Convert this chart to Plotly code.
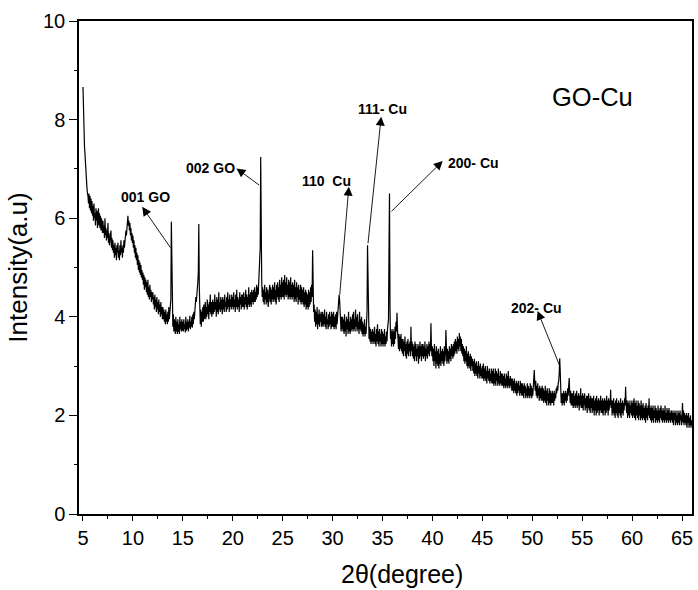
import numpy as np
import plotly.graph_objects as go

# XRD scan of the GO-Cu composite: 2-theta from 5.00 to 66.00 deg, 0.05 deg step
two_theta_start = 5.0
two_theta_step = 0.05
intensity = [
    8.66, 8.10, 7.68, 7.45, 7.30, 7.05, 6.95, 6.70, 6.60, 6.50, 6.45, 6.30, 6.50, 6.20, 6.45, 6.15, 6.40, 6.10, 6.35, 6.05,  # 5
    6.25, 5.95, 6.30, 6.00, 6.10, 5.85, 6.20, 5.95, 6.15, 5.80, 6.05, 6.20, 5.85, 6.10, 5.80, 6.05, 5.75, 6.00, 5.90, 5.70,  # 6
    5.95, 5.70, 5.85, 5.60, 6.00, 5.65, 5.80, 5.55, 5.75, 5.60, 5.90, 5.50, 5.70, 5.45, 5.65, 5.55, 5.75, 5.40, 5.60, 5.35,  # 7
    5.55, 5.30, 5.45, 5.20, 5.50, 5.25, 5.40, 5.15, 5.45, 5.30, 5.50, 5.20, 5.35, 5.15, 5.45, 5.25, 5.55, 5.30, 5.40, 5.20,  # 8
    5.45, 5.30, 5.55, 5.40, 5.60, 5.50, 5.75, 5.65, 5.90, 5.80, 6.05, 5.85, 5.95, 5.75, 5.90, 5.65, 5.80, 5.55, 5.70, 5.50,  # 9
    5.65, 5.40, 5.55, 5.30, 5.45, 5.20, 5.40, 5.15, 5.30, 5.05, 5.25, 4.95, 5.15, 4.90, 5.10, 4.85, 5.05, 4.80, 4.95, 4.75,  # 10
    4.90, 4.65, 4.85, 4.55, 4.80, 4.60, 4.75, 4.50, 4.70, 4.45, 4.75, 4.40, 4.60, 4.35, 4.65, 4.40, 4.55, 4.30, 4.50, 4.35,  # 11
    4.50, 4.25, 4.40, 4.15, 4.45, 4.20, 4.35, 4.10, 4.40, 4.15, 4.30, 4.05, 4.35, 4.10, 4.25, 4.00, 4.30, 4.05, 4.20, 3.95,  # 12
    4.20, 3.95, 4.15, 3.90, 4.10, 3.85, 4.15, 3.90, 4.05, 3.85, 4.10, 3.90, 4.20, 3.95, 4.15, 4.05, 4.35, 5.93, 4.60, 3.95,  # 13
    3.80, 4.05, 3.70, 3.95, 3.75, 3.65, 4.00, 3.70, 3.90, 3.65, 3.95, 3.70, 3.85, 3.65, 4.00, 3.75, 3.90, 3.70, 3.95, 3.72,  # 14
    3.90, 3.70, 3.95, 3.75, 3.85, 3.68, 4.00, 3.72, 3.90, 3.75, 3.95, 3.70, 3.90, 3.78, 4.02, 3.75, 3.90, 3.80, 4.00, 3.78,  # 15
    4.05, 3.85, 4.10, 3.95, 4.25, 4.15, 4.40, 4.30, 4.55, 4.50, 4.70, 4.90, 5.88, 4.60, 4.00, 3.85, 4.15, 3.80, 4.10, 3.90,  # 16
    4.20, 3.90, 4.25, 3.95, 4.10, 4.30, 3.95, 4.20, 4.00, 4.35, 4.05, 4.25, 3.95, 4.30, 4.10, 4.45, 4.05, 4.30, 4.00, 4.25,  # 17
    4.35, 4.05, 4.30, 4.10, 4.45, 4.15, 4.30, 4.00, 4.40, 4.10, 4.35, 4.05, 4.50, 4.15, 4.30, 4.10, 4.40, 4.15, 4.35, 4.05,  # 18
    4.40, 4.15, 4.35, 4.10, 4.45, 4.20, 4.30, 4.10, 4.40, 4.15, 4.50, 4.20, 4.35, 4.10, 4.45, 4.20, 4.35, 4.15, 4.45, 4.20,  # 19
    4.40, 4.15, 4.50, 4.20, 4.35, 4.10, 4.45, 4.20, 4.55, 4.15, 4.40, 4.20, 4.35, 4.10, 4.50, 4.25, 4.40, 4.15, 4.45, 4.20,  # 20
    4.45, 4.20, 4.50, 4.15, 4.40, 4.25, 4.55, 4.20, 4.45, 4.15, 4.40, 4.25, 4.60, 4.20, 4.45, 4.25, 4.50, 4.20, 4.55, 4.30,  # 21
    4.50, 4.25, 4.55, 4.30, 4.60, 4.30, 4.50, 4.35, 4.65, 4.40, 4.60, 4.45, 4.80, 4.70, 5.35, 5.40, 7.24, 5.30, 4.75, 4.40,  # 22
    4.60, 4.30, 4.55, 4.25, 4.65, 4.35, 4.50, 4.25, 4.60, 4.30, 4.55, 4.20, 4.50, 4.35, 4.65, 4.30, 4.60, 4.25, 4.55, 4.35,  # 23
    4.65, 4.30, 4.60, 4.35, 4.70, 4.30, 4.55, 4.25, 4.65, 4.40, 4.70, 4.35, 4.60, 4.30, 4.75, 4.40, 4.65, 4.35, 4.80, 4.40,  # 24
    4.70, 4.40, 4.75, 4.35, 4.85, 4.45, 4.70, 4.40, 4.80, 4.45, 4.65, 4.35, 4.75, 4.40, 4.70, 4.35, 4.80, 4.40, 4.65, 4.35,  # 25
    4.70, 4.40, 4.65, 4.30, 4.75, 4.35, 4.60, 4.30, 4.70, 4.40, 4.60, 4.25, 4.65, 4.35, 4.55, 4.30, 4.65, 4.25, 4.60, 4.30,  # 26
    4.55, 4.25, 4.60, 4.20, 4.50, 4.25, 4.55, 4.15, 4.50, 4.20, 4.45, 4.15, 4.55, 4.20, 4.50, 4.25, 4.60, 4.30, 4.65, 4.40,  # 27
    5.35, 4.70, 4.10, 4.25, 3.90, 4.15, 3.80, 4.10, 3.85, 4.20, 3.75, 4.05, 3.85, 4.15, 3.80, 4.05, 3.90, 4.10, 3.80, 4.00,  # 28
    4.10, 3.80, 4.05, 3.85, 4.15, 3.80, 4.00, 3.75, 4.10, 3.85, 3.95, 3.75, 4.05, 3.80, 4.10, 3.85, 4.00, 3.75, 4.10, 3.80,  # 29
    4.05, 3.80, 4.10, 3.75, 4.00, 3.80, 4.05, 3.75, 4.10, 3.85, 4.00, 4.15, 4.25, 4.44, 4.35, 4.10, 3.85, 3.70, 4.00, 3.75,  # 30
    4.00, 3.70, 3.95, 3.65, 4.05, 3.70, 3.90, 3.60, 4.00, 3.75, 3.95, 3.65, 4.10, 3.70, 3.90, 3.65, 4.00, 3.70, 3.95, 3.75,  # 31
    4.05, 3.70, 4.10, 3.75, 3.95, 3.70, 4.15, 3.80, 4.00, 3.70, 4.05, 3.75, 3.90, 3.65, 4.10, 3.75, 3.95, 3.70, 4.00, 3.65,  # 32
    3.90, 3.60, 3.85, 3.65, 3.95, 3.60, 3.80, 3.65, 3.90, 4.10, 5.45, 4.40, 3.75, 3.55, 3.80, 3.50, 3.75, 3.45, 3.70, 3.50,  # 33
    3.75, 3.45, 3.70, 3.50, 3.80, 3.45, 3.65, 3.40, 3.75, 3.50, 3.85, 3.45, 3.70, 3.40, 3.75, 3.50, 3.65, 3.40, 3.75, 3.45,  # 34
    3.70, 3.40, 3.65, 3.45, 3.75, 3.40, 3.60, 3.45, 3.70, 3.50, 3.75, 3.90, 3.95, 5.35, 6.50, 4.20, 3.55, 3.75, 3.40, 3.70,  # 35
    3.45, 3.75, 3.40, 3.70, 3.45, 3.80, 3.55, 3.90, 3.70, 4.08, 3.75, 3.50, 3.35, 3.65, 3.30, 3.60, 3.35, 3.65, 3.30, 3.55,  # 36
    3.25, 3.55, 3.20, 3.50, 3.30, 3.60, 3.20, 3.45, 3.15, 3.50, 3.25, 3.55, 3.20, 3.45, 3.30, 3.50, 3.20, 3.80, 3.30, 3.50,  # 37
    3.20, 3.45, 3.15, 3.40, 3.10, 3.50, 3.20, 3.45, 3.10, 3.35, 3.20, 3.45, 3.05, 3.40, 3.15, 3.50, 3.20, 3.40, 3.10, 3.45,  # 38
    3.20, 3.45, 3.15, 3.40, 3.20, 3.50, 3.10, 3.35, 3.20, 3.45, 3.15, 3.40, 3.25, 3.50, 3.20, 3.45, 3.30, 3.87, 3.40, 3.20,  # 39
    3.40, 3.10, 3.35, 3.00, 3.45, 3.10, 3.30, 2.95, 3.40, 3.05, 3.30, 3.00, 3.35, 2.95, 3.25, 3.05, 3.40, 3.00, 3.30, 3.10,  # 40
    3.35, 3.05, 3.30, 3.00, 3.40, 3.10, 3.25, 3.73, 3.30, 3.05, 3.35, 3.10, 3.30, 3.05, 3.40, 3.15, 3.35, 3.10, 3.45, 3.20,  # 41
    3.40, 3.15, 3.45, 3.20, 3.50, 3.25, 3.55, 3.30, 3.50, 3.25, 3.60, 3.35, 3.55, 3.30, 3.67, 3.40, 3.60, 3.30, 3.55, 3.25,  # 42
    3.45, 3.20, 3.40, 3.10, 3.35, 3.05, 3.30, 3.10, 3.40, 3.00, 3.25, 2.95, 3.30, 3.00, 3.20, 2.95, 3.25, 2.90, 3.20, 3.00,  # 43
    3.15, 2.90, 3.10, 2.85, 3.15, 2.80, 3.05, 2.85, 3.10, 2.80, 3.00, 2.75, 3.10, 2.85, 3.00, 2.75, 3.05, 2.80, 2.95, 2.75,  # 44
    3.00, 2.75, 3.05, 2.70, 2.95, 2.75, 3.00, 2.70, 2.90, 2.65, 3.00, 2.75, 2.90, 2.70, 2.95, 2.65, 2.85, 2.70, 2.95, 2.65,  # 45
    2.90, 2.65, 2.95, 2.60, 2.85, 2.65, 2.95, 2.60, 2.90, 2.70, 2.85, 2.60, 2.95, 2.65, 2.80, 2.60, 2.90, 2.65, 2.85, 2.60,  # 46
    2.85, 2.60, 2.80, 2.55, 2.85, 2.60, 2.75, 2.55, 2.85, 2.60, 2.80, 2.55, 2.90, 2.60, 2.75, 2.55, 2.80, 2.60, 2.75, 2.50,  # 47
    2.75, 2.50, 2.70, 2.45, 2.75, 2.50, 2.65, 2.45, 2.70, 2.40, 2.65, 2.45, 2.70, 2.50, 2.60, 2.40, 2.70, 2.45, 2.65, 2.40,  # 48
    2.65, 2.40, 2.60, 2.35, 2.65, 2.45, 2.60, 2.35, 2.55, 2.40, 2.65, 2.35, 2.60, 2.40, 2.55, 2.35, 2.65, 2.40, 2.60, 2.35,  # 49
    2.55, 2.40, 2.70, 2.75, 2.92, 2.65, 2.50, 2.70, 2.40, 2.60, 2.35, 2.65, 2.40, 2.55, 2.30, 2.60, 2.35, 2.55, 2.30, 2.50,  # 50
    2.60, 2.30, 2.55, 2.25, 2.50, 2.30, 2.60, 2.25, 2.50, 2.20, 2.55, 2.30, 2.45, 2.20, 2.55, 2.25, 2.50, 2.20, 2.45, 2.25,  # 51
    2.50, 2.25, 2.45, 2.20, 2.50, 2.30, 2.45, 2.35, 2.55, 2.45, 2.60, 2.50, 2.65, 2.70, 2.85, 3.16, 2.90, 2.45, 2.25, 2.45,  # 52
    2.20, 2.45, 2.25, 2.50, 2.20, 2.45, 2.30, 2.50, 2.25, 2.45, 2.30, 2.55, 2.40, 2.60, 2.76, 2.45, 2.25, 2.50, 2.20, 2.45,  # 53
    2.20, 2.45, 2.15, 2.50, 2.20, 2.40, 2.15, 2.45, 2.20, 2.50, 2.15, 2.40, 2.20, 2.45, 2.10, 2.40, 2.20, 2.55, 2.15, 2.40,  # 54
    2.15, 2.45, 2.10, 2.40, 2.20, 2.45, 2.10, 2.35, 2.15, 2.40, 2.05, 2.40, 2.15, 2.45, 2.10, 2.35, 2.05, 2.40, 2.15, 2.35,  # 55
    2.05, 2.35, 2.10, 2.40, 2.00, 2.30, 2.10, 2.35, 2.00, 2.40, 2.05, 2.30, 2.10, 2.35, 2.00, 2.30, 2.10, 2.40, 2.05, 2.30,  # 56
    2.05, 2.35, 2.00, 2.30, 2.10, 2.35, 2.00, 2.30, 2.05, 2.40, 2.10, 2.30, 2.00, 2.35, 2.10, 2.30, 2.20, 2.52, 2.15, 2.30,  # 57
    2.00, 2.30, 2.05, 2.35, 2.00, 2.25, 1.95, 2.30, 2.05, 2.35, 2.00, 2.25, 1.95, 2.30, 2.05, 2.25, 2.00, 2.35, 1.95, 2.25,  # 58
    2.05, 2.30, 2.00, 2.25, 2.10, 2.35, 2.20, 2.58, 2.25, 2.05, 2.30, 1.95, 2.25, 2.00, 2.30, 1.95, 2.20, 2.05, 2.30, 2.00,  # 59
    2.25, 1.95, 2.30, 2.00, 2.35, 1.95, 2.25, 1.90, 2.30, 2.00, 2.20, 1.95, 2.30, 1.90, 2.25, 2.00, 2.20, 1.90, 2.30, 1.95,  # 60
    2.20, 1.90, 2.25, 1.95, 2.15, 1.90, 2.20, 1.85, 2.25, 1.95, 2.15, 1.90, 2.20, 2.00, 2.35, 1.95, 2.15, 1.90, 2.20, 1.85,  # 61
    2.15, 1.90, 2.20, 1.85, 2.10, 1.95, 2.20, 1.85, 2.15, 1.90, 2.10, 1.85, 2.20, 1.90, 2.10, 1.85, 2.15, 1.95, 2.20, 1.90,  # 62
    2.10, 1.85, 2.15, 1.90, 2.10, 1.85, 2.20, 1.90, 2.05, 1.85, 2.15, 1.90, 2.10, 1.85, 2.15, 1.90, 2.05, 1.85, 2.10, 1.90,  # 63
    2.10, 1.85, 2.05, 1.80, 2.10, 1.90, 2.05, 1.80, 2.10, 1.85, 2.00, 1.80, 2.10, 1.85, 2.05, 1.80, 2.10, 1.90, 2.00, 1.80,  # 64
    2.05, 2.25, 1.85, 2.10, 1.80, 2.05, 1.85, 2.00, 1.80, 2.05, 1.75, 2.00, 1.85, 2.05, 1.75, 1.95, 1.80, 2.00, 1.75, 1.90,  # 65
    1.80,
]

# Reflection labels: text, label position, arrow tail (on the peak), arrow head
peak_labels = ["001 GO", "002 GO", "110  Cu", "111- Cu", "200- Cu", "202- Cu"]
label_x = [11.3, 17.75, 29.4, 35.0, 44.1, 50.4]
label_y = [6.43, 7.02, 6.76, 8.22, 7.11, 4.17]
tail_x = [13.87, 22.8, 30.7, 33.53, 35.75, 52.78]
tail_y = [5.37, 6.65, 4.41, 5.46, 6.11, 2.99]
head_x = [10.93, 20.37, 31.63, 34.87, 41.03, 50.53]
head_y = [6.23, 7.01, 6.64, 8.06, 7.16, 4.12]

sample_name = "GO-Cu"
x_ticks = [5, 10, 15, 20, 25, 30, 35, 40, 45, 50, 55, 60, 65]
y_ticks = [0, 2, 4, 6, 8, 10]

two_theta = np.round(two_theta_start + two_theta_step * np.arange(len(intensity)), 2)

fig = go.Figure()
fig.add_trace(go.Scatter(
    x=two_theta, y=intensity, mode="lines",
    line=dict(color="black", width=1.2),
    showlegend=False, hoverinfo="x+y",
))

font_main = "Liberation Sans, Arial, sans-serif"
annotations = []
for txt, lx, ly, tx, ty, hx, hy in zip(peak_labels, label_x, label_y,
                                        tail_x, tail_y, head_x, head_y):
    annotations.append(dict(
        x=lx, y=ly, xref="x", yref="y", text="<b>%s</b>" % txt,
        showarrow=False, font=dict(family=font_main, size=14, color="black"),
        xanchor="center", yanchor="middle",
    ))
    annotations.append(dict(
        x=hx, y=hy, ax=tx, ay=ty, xref="x", yref="y", axref="x", ayref="y",
        text="", showarrow=True, arrowhead=2, arrowsize=2.0, arrowwidth=0.9,
        arrowcolor="black", standoff=0, startstandoff=0,
    ))

annotations.append(dict(
    x=56.0, y=8.45, xref="x", yref="y", text=sample_name, showarrow=False,
    font=dict(family=font_main, size=25.5, color="black"),
    xanchor="center", yanchor="middle",
))
annotations.append(dict(
    x=0.527, y=-0.122, xref="paper", yref="paper", text="2θ(degree)",
    showarrow=False, font=dict(family=font_main, size=25, color="black"),
    xanchor="center", yanchor="middle",
))

fig.update_layout(
    width=698, height=590,
    margin=dict(l=79, r=4, t=21, b=76),
    paper_bgcolor="white", plot_bgcolor="white",
    font=dict(family=font_main, size=20, color="black"),
    annotations=annotations,
)
fig.update_xaxes(
    range=[4.6, 66.0], tickvals=x_ticks, ticks="outside", ticklen=5,
    tickwidth=1.3, tickcolor="black",
    minor=dict(dtick=2.5, tick0=2.5, ticks="outside", ticklen=3, tickwidth=1.3, tickcolor="black"),
    showline=True, linecolor="black", linewidth=1.5, mirror=True,
    showgrid=False, zeroline=False,
    tickfont=dict(family=font_main, size=20, color="black"),
)
fig.update_yaxes(
    range=[0, 10], tickvals=y_ticks, ticks="outside", ticklen=8,
    tickwidth=1.3, tickcolor="black",
    minor=dict(dtick=1, tick0=0, ticks="outside", ticklen=3, tickwidth=1.3, tickcolor="black"),
    showline=True, linecolor="black", linewidth=1.5, mirror=True,
    showgrid=False, zeroline=False,
    title=dict(text="Intensity(a.u)", font=dict(family=font_main, size=26, color="black"), standoff=8),
    tickfont=dict(family=font_main, size=20, color="black"),
)

fig.write_html("out.html")
